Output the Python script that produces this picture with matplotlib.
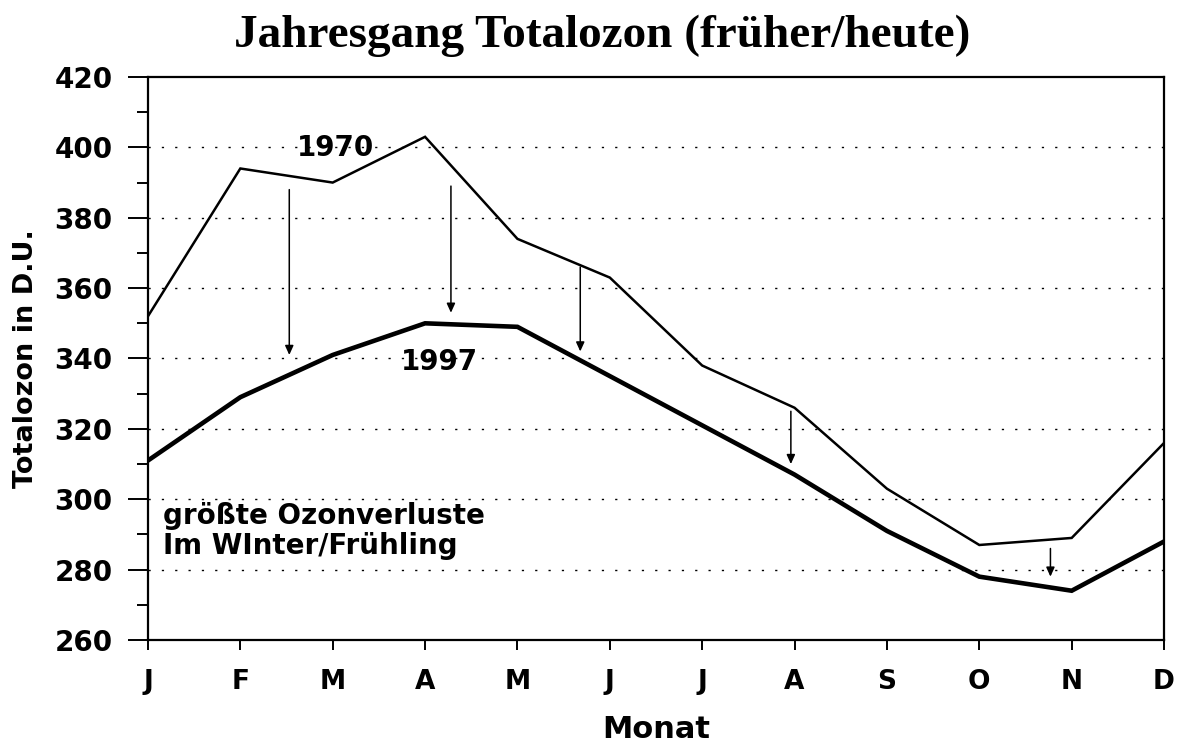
import matplotlib
matplotlib.use("Agg")
import matplotlib.pyplot as plt
import numpy as np

months = ["J", "F", "M", "A", "M", "J", "J", "A", "S", "O", "N", "D"]
ozone_1970 = [352, 394, 390, 403, 374, 363, 338, 326, 303, 287, 289, 316]
ozone_1997 = [311, 329, 341, 350, 349, 335, 321, 307, 291, 278, 274, 288]
# arrows: (month position, start value, end value)
arrow_x = [1.53, 3.28, 4.68, 6.96, 9.77]
arrow_start = [388, 389, 366, 325, 286]
arrow_end = [341, 353, 342, 310, 278]
yticks = [260, 280, 300, 320, 340, 360, 380, 400, 420]

plt.rcParams['font.family'] = ['DejaVu Sans']
fig = plt.figure(figsize=(11.77, 7.44), dpi=100)
ax = fig.add_axes([0.1257, 0.1398, 0.989 - 0.1257, 0.8965 - 0.1398])

x = np.arange(len(months))
ax.plot(x, ozone_1970, color='black', lw=1.8, solid_joinstyle='miter')
ax.plot(x, ozone_1997, color='black', lw=3.3, solid_joinstyle='miter')

for xa, s, e in zip(arrow_x, arrow_start, arrow_end):
    ax.annotate('', xy=(xa, e), xytext=(xa, s),
                arrowprops=dict(arrowstyle='-|>,head_length=0.55,head_width=0.25',
                                color='black', lw=1.1, shrinkA=0, shrinkB=0))

ax.set_xlim(0, 11)
ax.set_ylim(260, 420)
ax.set_xticks(x)
ax.set_xticklabels(months, fontsize=19, fontweight='bold')
ax.set_yticks(yticks)
ax.set_yticklabels([str(v) for v in yticks], fontsize=20, fontweight='bold')
ax.set_yticks(np.arange(270, 420, 20), minor=True)
ax.tick_params(axis='y', which='major', length=14.4, width=1.4, pad=11)
ax.tick_params(axis='y', which='minor', length=8, width=1.4)
ax.tick_params(axis='x', which='major', length=7.2, width=1.4, pad=14)
for sp in ax.spines.values():
    sp.set_linewidth(1.6)

for v in yticks[1:-1]:
    ax.axhline(v, color='black', lw=1.0, ls=(0, (1.6, 8)), zorder=0)

ax.text(2.03, 399.7, "1970", fontsize=20, fontweight='bold', ha='center', va='center')
ax.text(3.16, 339, "1997", fontsize=20, fontweight='bold', ha='center', va='center')
ax.text(0.16, 293.0, "größte Ozonverluste", fontsize=20,
        fontweight='bold', ha='left', va='baseline')
ax.text(0.16, 284.4, "Im WInter/Frühling", fontsize=20,
        fontweight='bold', ha='left', va='baseline')

ax.set_xlabel("Monat", fontsize=22, fontweight='bold', labelpad=14)
ax.set_ylabel("Totalozon in D.U.", fontsize=19.5, fontweight='bold', labelpad=11)
fig.text(0.512, 0.9368, "Jahresgang Totalozon (früher/heute)", fontsize=34,
         fontweight='bold', family=['Liberation Serif', 'DejaVu Serif'],
         ha='center', va='baseline')

fig.savefig("out.png", dpi=100)
